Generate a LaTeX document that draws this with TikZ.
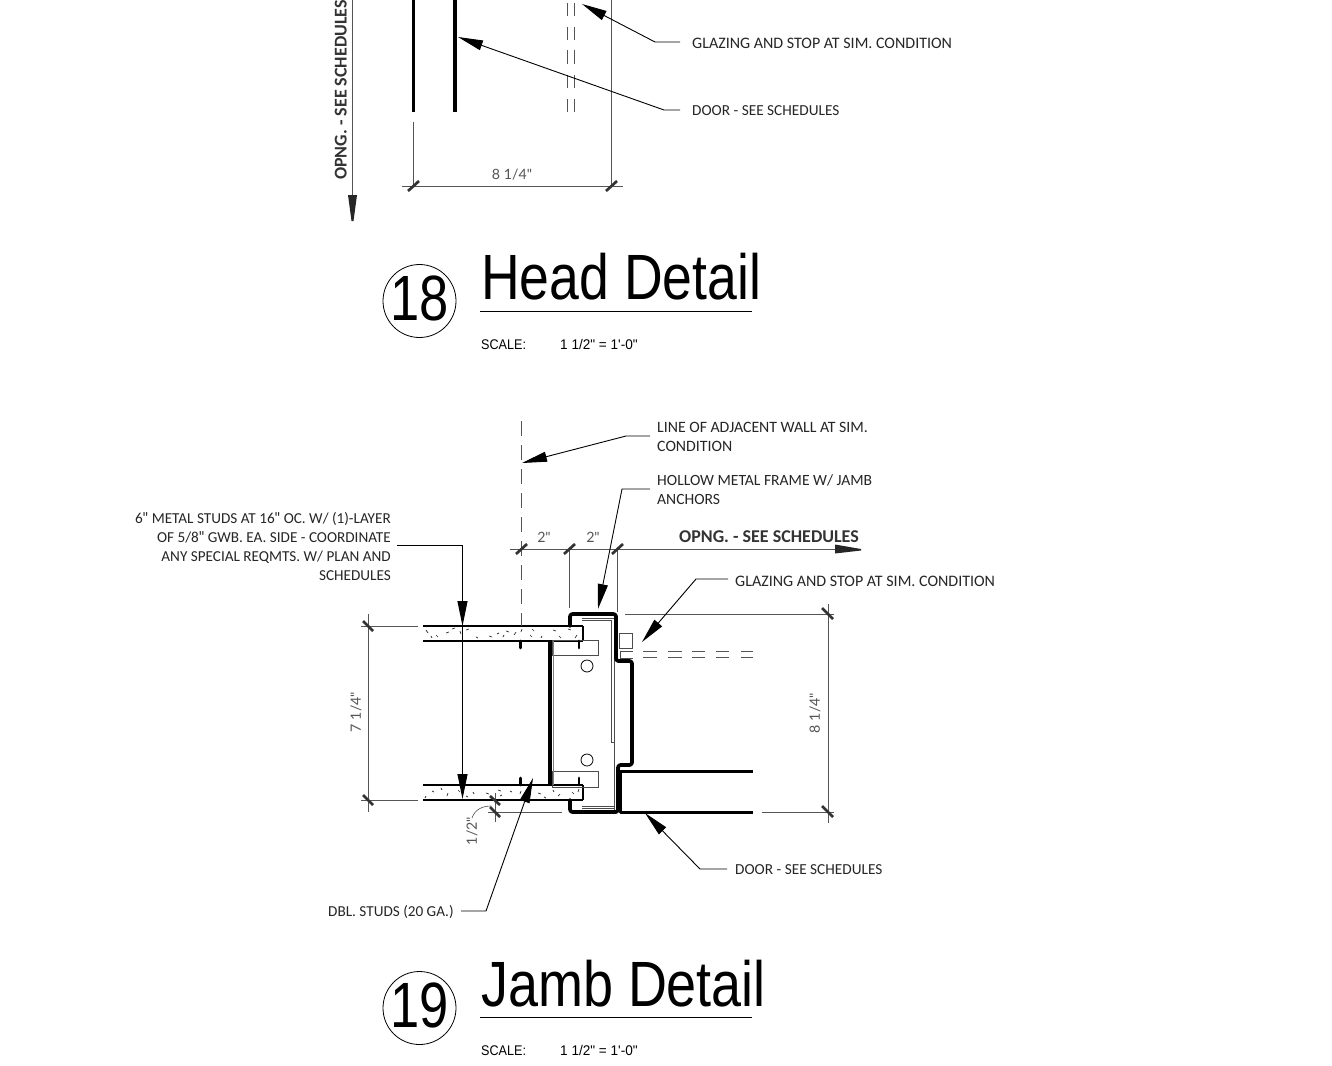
\documentclass[tikz,border=0pt]{standalone}
\usepackage{fontspec}
\setmainfont{Carlito}
\newfontfamily\titlefont{Liberation Sans}
\newfontfamily\dimfont{Lato}
\usetikzlibrary{arrows.meta}
\definecolor{dimgray}{HTML}{555555}
\newcommand{\strq}{{\dimfont"}}
\tikzset{
  inkline/.style={line width=3.2pt,black,line join=round,line cap=round},
  wallline/.style={line width=2.7pt,black,line cap=butt},
  thickframe/.style={line width=3.7pt,black,line join=round,line cap=round,rounded corners=2.5pt},
  thinline/.style={line width=.8pt,dimgray},
  finegray/.style={line width=.7pt,black!70},
  leader/.style={line width=.9pt,black,-{Triangle[length=25pt,width=10pt]}},
  dimline/.style={line width=.9pt,dimgray},
  tick/.style={line width=2.7pt,dimgray!60!black},
  label/.style={font=\fontsize{#1}{19}\selectfont,text=black!85,inner sep=0pt,align=left},
  labelr/.style={label=#1,align=right},
  opng/.style={font=\fontsize{18}{18}\bfseries\selectfont,text=black!80,inner sep=0pt},
  dimtext/.style={font=\dimfont\fontsize{14.2}{14}\selectfont,text=dimgray,inner sep=0pt},
  dettitle/.style={font=\titlefont\fontsize{64}{64}\selectfont,inner sep=0pt,anchor=base west,xscale=#1,transform shape},
  detnum/.style={font=\titlefont\fontsize{64}{64}\selectfont,inner sep=0pt,xscale=.82,transform shape},
  scaletext/.style={font=\titlefont\fontsize{14}{14}\selectfont,inner sep=0pt,anchor=base west,xscale=#1,transform shape},
  numcircle/.style={circle,draw,line width=.8pt,minimum size=73pt,inner sep=0pt},
  hole/.style={circle,draw,line width=.8pt,minimum size=12pt,inner sep=0pt},
  speck/.style={line width=.7pt,black!80},
}
\begin{document}
\begin{tikzpicture}[x=1pt,y=-1pt]
\useasboundingbox (0,0) rectangle (1332,1065);
\clip (0,0) rectangle (1332,1065);
\fill[white] (0,0) rectangle (1332,1065);

%% ---------- HEAD DETAIL ----------
\draw[inkline,line cap=butt] (413.5,0) -- (413.5,112);
\draw[inkline,line cap=butt] (455,0) -- (455,112);
\draw[dimline] (413.5,122) -- (413.5,186);
\draw[dimline] (611.5,0) -- (611.5,186);
\draw[dimline] (402,186) -- (623,186);
\draw[tick] (408,191) -- (419,181);
\draw[tick] (606,191) -- (617,181);
\node[dimtext] (headdim) at (512,175) {8 1/4"};
\foreach \a/\b in {3/16,27/40,50/64,75/88,99/112}{
  \draw[thinline] (567.5,\a) -- (567.5,\b);
  \draw[thinline] (574.5,\a) -- (574.5,\b);
}
\draw[dimline] (352,0) -- (352,196);
\fill[black!85] (348,195) -- (357,195) -- (353.5,221) -- (351.5,221) -- cycle;
\node[opng,rotate=90,anchor=base west] (headopng) at (346.5,180) {OPNG. - SEE SCHEDULES};

\node[label=16,anchor=west] (headglaz) at (692,43) {GLAZING AND STOP AT SIM. CONDITION};
\node[label=15.3,anchor=west] (headdoor) at (692,111) {DOOR - SEE SCHEDULES};
\coordinate (hg0) at (680,42);
\coordinate (hg1) at (655,42);
\coordinate (hgt) at (582,4);
\coordinate (hd0) at (680,110);
\coordinate (hd1) at (664,110);
\coordinate (hdt) at (458,37);
\draw[leader] (hg0) -- (hg1) -- (hgt);
\draw[leader] (hd0) -- (hd1) -- (hdt);

\node[numcircle] (c18) at (419.5,301) {};
\node[detnum] (n18) at (420,298) {18};
\node[dettitle=.837] (t18) at (481,299) {Head Detail};
\draw[line width=.9pt] (480,311) -- (752,311);
\node[scaletext=.9] (s18a) at (481,349) {SCALE:};
\node[scaletext=.97] (s18b) at (560,349) {1 1/2" = 1'-0"};

%% ---------- JAMB DETAIL ----------
% walls
\foreach \yy/\zz in {626/641,785/800}{
  \draw[wallline] (423,\yy) -- (583,\yy);
  \draw[wallline] (423,\zz) -- (583,\zz);
  \draw[line width=2pt] (583,\yy) -- (583,\zz);
}
% speckle in the gypsum board
\foreach \x/\y/\u/\v in {426/630/2/3,431/636/1/2,436/635/2/2,446/633/3/-1,452/629/3/-1,460/631/1/3,466/630/3/-1,476/637/2/1,489/636/3/1,506/631/3/1,503/637/1/-2,516/632/-2/3,522/629/-1/3,530/635/2/2,532/629/2/2,553/630/3/1,559/636/2/2,568/629/3/1,577/635/-2/3,497/634/2/-1,542/636/-1/2,
  432/791/2/1,441/788/1/2,448/793/-1/3,458/790/2/2,473/792/1/2,486/793/3/1,498/790/3/1,500/796/2/-1,520/794/1/-3,538/793/3/1,544/797/2/1,553/790/1/2,560/794/-2/2,572/792/2/2,579/789/-1/3,426/796/-1/2,466/796/2/1,510/791/2/1}{
  \draw[speck] (\x,\y) -- ++(\u,\v);
}
% stud clips and screws
\draw[finegray] (552,640) rectangle (598,655);
\draw[finegray] (552,771) rectangle (598,787);
\draw[line width=2.8pt,line cap=round] (520.7,641) -- (520.7,648);
\draw[line width=2.8pt,line cap=round] (579,641) -- (579,648);
\draw[line width=2.8pt,line cap=round] (520.7,778) -- (520.7,785);
\draw[line width=2.8pt,line cap=round] (579,778) -- (579,785);
\node[hole] (h1) at (587,666) {};
\node[hole] (h2) at (587,760) {};
% stud
\draw[line width=4pt] (550,641) -- (550,785);
\draw[line width=.7pt,black!50] (553,641) -- (553,785);
% inner frame thin lines
\draw[finegray] (582,618) -- (614,618);
\draw[finegray] (582,620) -- (612,620);
\draw[finegray] (582,806) -- (614,806);
\draw[finegray] (582,808) -- (614,808);
\draw[finegray] (614.5,616) -- (614.5,810);
\draw[finegray] (611.5,620) -- (611.5,742) -- (614.5,742);
% frame
\draw[thickframe] (570,626) -- (570,614) -- (616,614) -- (616,661) -- (632,661) -- (632,765) -- (618,765) -- (618,812) -- (570,812) -- (570,800);
% door
\draw[line width=3pt,line join=round] (753,771) -- (620.5,771) -- (620.5,812) -- (753,812);
% stop and glass
\draw[finegray] (619,633) rectangle (632.5,648);
\draw[finegray] (633,651) -- (620,651) -- (620,658) -- (633,658);
\foreach \a/\b in {643/657,668/682,692/705,716/729,741/753}{
  \draw[thinline] (\a,651.5) -- (\b,651.5);
  \draw[thinline] (\a,657.5) -- (\b,657.5);
}
% adjacent wall line
\draw[line width=1pt,dimgray,dash pattern=on 15pt off 9pt] (521.5,421) -- (521.5,626);
% top dimensions
\draw[dimline] (510,549) -- (836,549);
\fill[black!85] (835,544.5) -- (835,553.5) -- (861,550.5) -- (861,549) -- cycle;
\draw[dimline] (569.5,549) -- (569.5,608);
\draw[dimline] (617.5,549) -- (617.5,612);
\draw[tick] (516,554) -- (527,544);
\draw[tick] (564,554) -- (575,544);
\draw[tick] (612,554) -- (623,544);
\node[dimtext] (d2a) at (544,537.5) {2"};
\node[dimtext] (d2b) at (593,537.5) {2"};
\node[opng] (jopng) at (769,537) {OPNG. - SEE SCHEDULES};
% right dimension
\draw[dimline] (625,614) -- (834,614);
\draw[dimline] (762,812) -- (834,812);
\draw[dimline] (828,604) -- (828,823);
\draw[tick] (822,608) -- (833,619);
\draw[tick] (822,806) -- (833,817);
\node[dimtext,rotate=90] (d81) at (815,713) {8 1/4"};
% left dimension
\draw[dimline] (361,626) -- (418,626);
\draw[dimline] (361,800) -- (418,800);
\draw[dimline] (368,614) -- (368,812);
\draw[tick] (363,621) -- (373,631);
\draw[tick] (363,795) -- (373,805);
\node[dimtext,rotate=90] (d71) at (356,712) {7 1/4"};
% half inch dimension
\draw[dimline] (495,793) -- (495,822);
\draw[dimline] (488,812) -- (562,812);
\draw[tick] (490,796) -- (500,805);
\draw[tick] (490,807) -- (500,817);
\node[dimtext,rotate=90] (d12) at (472,831) {1/2"};
\coordinate (hc0) at (472,818);
\coordinate (hc1) at (491,806);
\draw[line width=.6pt,black!70] (hc0) .. controls (475,809) and (483,806) .. (hc1);

% labels and leaders
\node[label=15.8,anchor=north west] (lineadj) at (657,422.5) {LINE OF ADJACENT WALL AT SIM.\\CONDITION};
\node[label=15.6,anchor=north west] (hollow) at (657,474.5) {HOLLOW METAL FRAME W/ JAMB\\ANCHORS};
\node[labelr=15.2,anchor=north east] (studs) at (391,512) {6\strq{} METAL STUDS AT 16\strq{} OC. W/ (1)-LAYER\\OF 5/8\strq{} GWB. EA. SIDE - COORDINATE\\ANY SPECIAL REQMTS. W/ PLAN AND\\SCHEDULES};
\node[label=16,anchor=west] (jglaz) at (735,581) {GLAZING AND STOP AT SIM. CONDITION};
\node[label=15.3,anchor=west] (jdoor) at (735,870) {DOOR - SEE SCHEDULES};
\node[label=15.2,anchor=west] (dbl) at (328,912) {DBL. STUDS (20 GA.)};

\coordinate (la0) at (650,436); \coordinate (la1) at (626,436); \coordinate (lat) at (522,463);
\coordinate (hm0) at (650,489); \coordinate (hm1) at (622,489); \coordinate (hmt) at (598,609);
\coordinate (gl0) at (728,579); \coordinate (gl1) at (696,579); \coordinate (glt) at (642,642);
\coordinate (dr0) at (727,869); \coordinate (dr1) at (700,869); \coordinate (drt) at (645,813);
\coordinate (db0) at (461,911); \coordinate (db1) at (486,911); \coordinate (dbt) at (533,778);
\coordinate (st0) at (397,545); \coordinate (st1) at (462.5,545); \coordinate (stm) at (462.5,626); \coordinate (stb) at (462.5,799);
\draw[leader] (la0) -- (la1) -- (lat);
\draw[leader] (hm0) -- (hm1) -- (hmt);
\draw[leader] (gl0) -- (gl1) -- (glt);
\draw[leader] (dr0) -- (dr1) -- (drt);
\draw[leader] (db0) -- (db1) -- (dbt);
\draw[leader] (st0) -- (st1) -- (stm);
\draw[leader] (stm) -- (stb);

\node[numcircle] (c19) at (419.5,1008) {};
\node[detnum] (n19) at (420,1005) {19};
\node[dettitle=.843] (t19) at (481,1006) {Jamb Detail};
\draw[line width=.9pt] (480,1017) -- (752,1017);
\node[scaletext=.9] (s19a) at (481,1055) {SCALE:};
\node[scaletext=.97] (s19b) at (560,1055) {1 1/2" = 1'-0"};
\end{tikzpicture}
\end{document}
